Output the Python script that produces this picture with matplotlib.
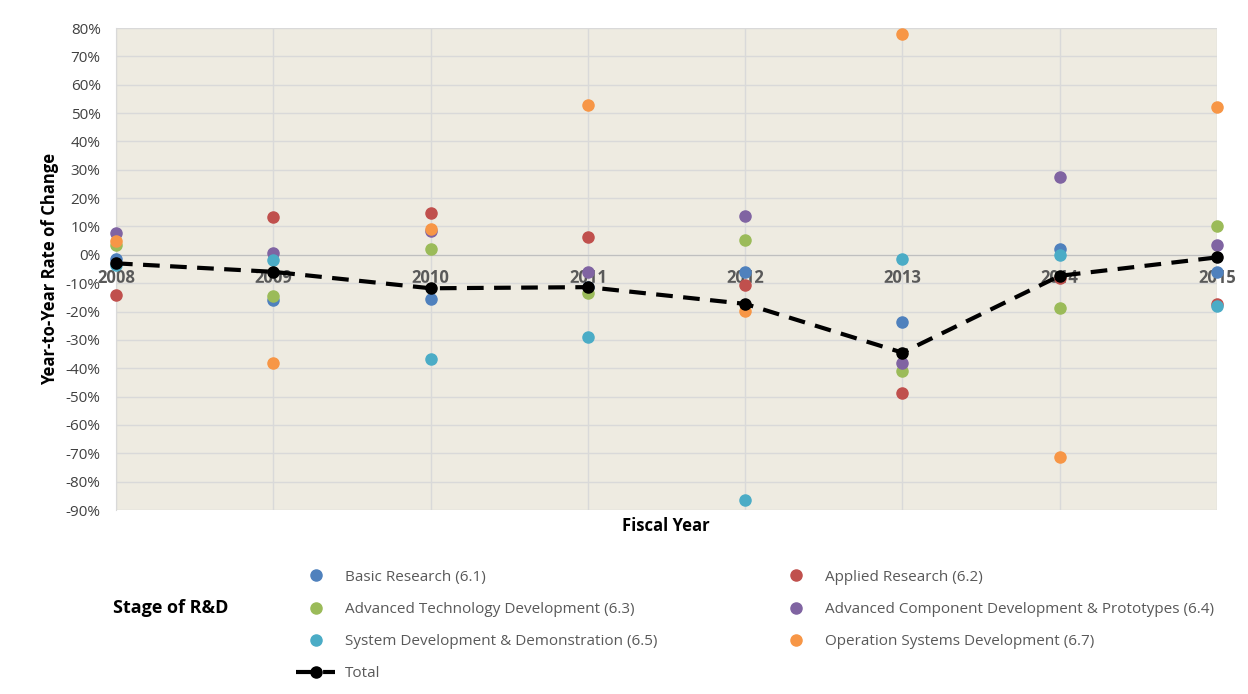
import matplotlib.pyplot as plt
from matplotlib.ticker import MultipleLocator, FuncFormatter

years = [2008, 2009, 2010, 2011, 2012, 2013, 2014, 2015]

basic = [-1.5, -16, -15.6, -11.2, -5.9, -23.7, 2.1, -6.2]
applied = [-14, 13.5, 14.7, 6.2, -10.8, -48.8, -8, -17.3]
adv_tech = [3.5, -14.5, 2.1, -13.3, 5.3, -40.8, -18.9, 10]
adv_comp = [7.6, 0.5, 8.5, -6.2, 13.8, -38.2, 27.3, 3.5]
sys_dev = [-3.5, -2, -36.8, -29, -86.4, -1.4, 0, -18.2]
op_sys = [4.7, -38, 9, 53, -19.8, 77.8, -71.4, 52]
total = [-3, -6, -11.8, -11.4, -17.3, -34.5, -7.4, -0.9]

series = [
    ('Basic Research (6.1)', basic, '#4F81BD'),
    ('Applied Research (6.2)', applied, '#C0504D'),
    ('Advanced Technology Development (6.3)', adv_tech, '#9BBB59'),
    ('Advanced Component Development & Prototypes (6.4)', adv_comp, '#8064A2'),
    ('System Development & Demonstration (6.5)', sys_dev, '#4BACC6'),
    ('Operation Systems Development (6.7)', op_sys, '#F79646'),
]

plt.rcParams['font.family'] = ['Open Sans', 'DejaVu Sans']

fig = plt.figure(figsize=(12.48, 6.94), dpi=100)
ax = fig.add_axes([116 / 1248, 1 - 510 / 694, (1217 - 116) / 1248, (510 - 28) / 694])
ax.set_facecolor('#EEEBE1')

handles = {}
for i, (name, vals, col) in enumerate(series):
    h, = ax.plot(years, vals, 'o', color=col, markersize=8, label=name,
                 clip_on=False, zorder=3 + i)
    handles[name] = h
h_total, = ax.plot(years, total, '--', color='black', lw=3, dashes=(4, 2.5),
                   marker='o', markersize=8, label='Total', clip_on=False, zorder=10)

ax.set_xlim(2008, 2015)
ax.set_ylim(-90, 80)
ax.yaxis.set_major_locator(MultipleLocator(10))
ax.yaxis.set_major_formatter(FuncFormatter(lambda v, p: '{:.0f}%'.format(v)))
ax.set_xticks(years)
ax.grid(True, color='#D9D9D9', lw=1)
ax.set_axisbelow(True)

for s in ['top', 'right', 'left']:
    ax.spines[s].set_visible(False)
ax.spines['left'].set_visible(True)
ax.spines['left'].set_color('#D9D9D9')
ax.spines['bottom'].set_position(('data', 0))
ax.spines['bottom'].set_color('#BFBFBF')
ax.tick_params(axis='x', length=0, pad=10, labelsize=12, labelcolor='#595959')
ax.tick_params(axis='y', length=0, pad=11, labelsize=11, labelcolor='#404040')
for lbl in ax.get_xticklabels():
    lbl.set_fontweight('bold')

ax.set_ylabel('Year-to-Year Rate of Change', fontsize=12, fontweight='bold', labelpad=5)
fig.text(666 / 1248, 1 - 526 / 694, 'Fiscal Year', fontsize=12, fontweight='bold',
         ha='center', va='center')

fig.text(113 / 1248, 1 - 608 / 694, 'Stage of R&D', fontsize=13, fontweight='bold',
         ha='left', va='center')

order = [series[0][0], series[2][0], series[4][0], 'Total', series[1][0], series[3][0], series[5][0]]
hmap = dict(handles)
hmap['Total'] = h_total
leg = fig.legend([hmap[n] for n in order], order, ncol=2, loc='upper left',
                 bbox_to_anchor=(282 / 1248, 1 - 556 / 694), frameon=False,
                 fontsize=11, handlelength=2.6, handletextpad=0.6,
                 labelspacing=1.12, columnspacing=7.8, labelcolor='#595959')

fig.savefig('out.png', dpi=100)
